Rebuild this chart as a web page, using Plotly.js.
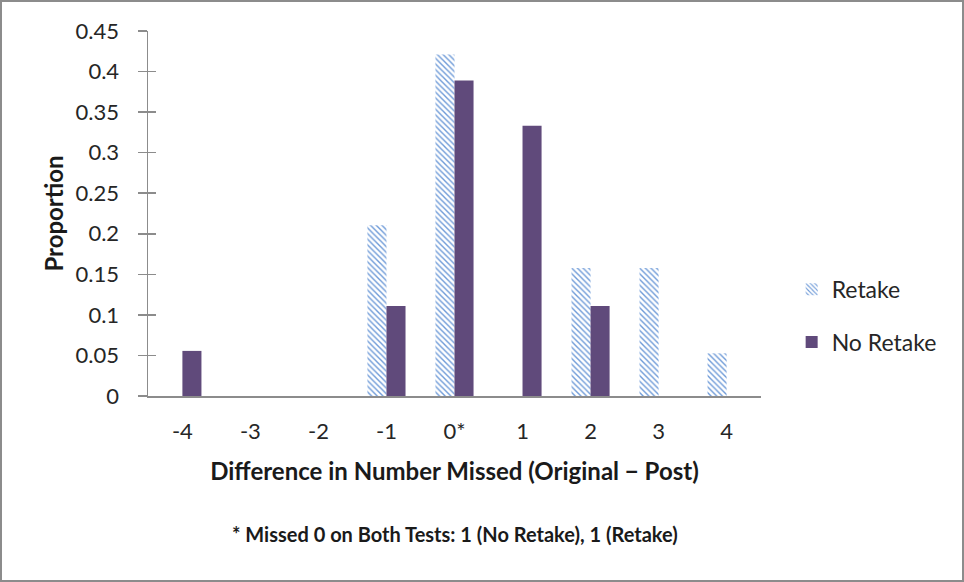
<!DOCTYPE html>
<html><head><meta charset="utf-8">
<script src="https://cdn.plot.ly/plotly-3.0.1.min.js"></script>
<style>
html,body{margin:0;padding:0;background:#fff;}
#wrap{position:relative;width:964px;height:582px;}
#chart{position:absolute;left:0;top:0;width:964px;height:582px;}
#frame{position:absolute;left:0;top:0;width:964px;height:582px;box-sizing:border-box;border:2px solid #8c8c8c;pointer-events:none;}
</style>
</head><body>
<div id="wrap"><div id="chart"></div><div id="frame"></div></div>
<script>
const categories = ["-4","-3","-2","-1","0*","1","2","3","4"];
const retake = [0, 0, 0, 0.2105, 0.4211, 0, 0.1579, 0.1579, 0.0526];
const noRetake = [0.0556, 0, 0, 0.1111, 0.3889, 0.3333, 0.1111, 0, 0];
const yTicks = [0,0.05,0.1,0.15,0.2,0.25,0.3,0.35,0.4,0.45];
const yTickText = ["0","0.05","0.1","0.15","0.2","0.25","0.3","0.35","0.4","0.45"];

const font = "Lato, 'Open Sans', sans-serif";
const traces = [
  {type:"bar", name:"Retake", x:categories, y:retake, legendgroup:"a",
   marker:{color:"#ffffff", line:{width:0},
     pattern:{shape:"\\", fgcolor:"#6f9bd8", bgcolor:"#ffffff", size:4, solidity:0.35}},
   hoverinfo:"skip"},
  {type:"bar", name:"No Retake", x:categories, y:noRetake, legendgroup:"b",
   marker:{color:"#604a7b", line:{width:0}}, hoverinfo:"skip"},
  {type:"scatter", x:categories, y:noRetake.map(()=>null), yaxis:"y2", showlegend:false, hoverinfo:"skip"}
];
const layout = {
  width:964, height:582,
  margin:{l:148, r:203, t:31, b:186},
  paper_bgcolor:"#ffffff", plot_bgcolor:"#ffffff",
  font:{family:font, color:"#333333", size:22},
  barmode:"group", bargap:0.44, bargroupgap:0,
  showlegend:true,
  legend:{x:1.05, xanchor:"left", y:0.22, yanchor:"middle", traceorder:"grouped", tracegroupgap:20,
    font:{family:font, size:23, color:"#262626"}, itemwidth:30},
  xaxis:{type:"category", categoryarray:categories, showline:true, linecolor:"#8c8c8c", linewidth:1.5,
    ticks:"", showgrid:false, zeroline:false, tickfont:{family:font, size:22, color:"#262626"},
    ticklabelstandoff:15,
    title:{text:"<b>Difference in Number Missed (Original − Post)</b>", standoff:20, font:{family:font, size:24, color:"#1a1a1a"}}},
  yaxis:{range:[0,0.45], tickvals:yTicks, ticktext:yTickText, showline:true, linecolor:"#8c8c8c", linewidth:1.5,
    ticks:"outside", ticklen:9, tickcolor:"#8c8c8c", tickwidth:1.5, showgrid:false, zeroline:false,
    tickfont:{family:font, size:22, color:"#262626"}, ticklabelstandoff:14,
    title:{text:"<b>Proportion</b>", standoff:5, font:{family:font, size:24, color:"#1a1a1a"}}},
  yaxis2:{overlaying:"y", range:[0,0.45], tickvals:yTicks, showticklabels:false, ticks:"inside", ticklen:8,
    tickcolor:"#8c8c8c", tickwidth:1.5, showgrid:false, zeroline:false, showline:false},
  annotations:[{xref:"paper", yref:"paper", x:0.5, y:-0.377, xanchor:"center", yanchor:"middle", showarrow:false,
    text:"<b>* Missed 0 on Both Tests: 1 (No Retake), 1 (Retake)</b>", font:{family:font, size:20, color:"#1a1a1a"}}]
};
Plotly.newPlot("chart", traces, layout, {staticPlot:true, displayModeBar:false});
</script>
</body></html>
